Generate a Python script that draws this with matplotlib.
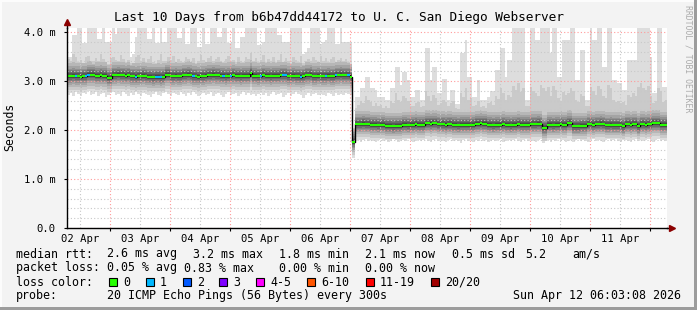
import matplotlib
matplotlib.use("Agg")
import matplotlib.pyplot as plt
import matplotlib.dates as mdates
from matplotlib.patches import Rectangle
from matplotlib.ticker import MultipleLocator, FixedLocator, FixedFormatter
import numpy as np
import pandas as pd

W, H = 697, 310
MONO = "DejaVu Sans Mono"

# hourly steps, first step starts at the left edge of the plot
start = pd.Timestamp("2026-04-02 06:48")
n_steps = 240
switch_step = 114   # first step on the new (faster) path

median_rtt = [
    3.10, 3.10, 3.11, 3.10, 3.10, 3.09, 3.10, 3.10, 3.13, 3.13,
    3.13, 3.11, 3.11, 3.12, 3.11, 3.11, 3.07, 3.07, 3.12, 3.12,
    3.13, 3.12, 3.12, 3.11, 3.12, 3.10, 3.10, 3.09, 3.10, 3.10,
    3.11, 3.10, 3.09, 3.09, 3.08, 3.09, 3.09, 3.08, 3.09, 3.13,
    3.13, 3.10, 3.10, 3.11, 3.10, 3.10, 3.12, 3.12, 3.13, 3.12,
    3.10, 3.10, 3.09, 3.10, 3.10, 3.11, 3.12, 3.12, 3.13, 3.12,
    3.12, 3.11, 3.11, 3.10, 3.11, 3.11, 3.12, 3.11, 3.11, 3.10,
    3.11, 3.11, 3.11, 3.16, 3.11, 3.11, 3.10, 3.11, 3.12, 3.11,
    3.11, 3.10, 3.11, 3.11, 3.11, 3.12, 3.12, 3.12, 3.10, 3.10,
    3.11, 3.10, 3.10, 3.09, 3.10, 3.12, 3.12, 3.13, 3.10, 3.10,
    3.11, 3.10, 3.10, 3.10, 3.11, 3.10, 3.10, 3.12, 3.12, 3.13,
    3.12, 3.12, 3.12, 3.08, 1.76, 2.12, 2.12, 2.12, 2.13, 2.12,
    2.12, 2.11, 2.11, 2.11, 2.10, 2.11, 2.11, 2.09, 2.09, 2.09,
    2.08, 2.09, 2.09, 2.09, 2.11, 2.11, 2.10, 2.11, 2.11, 2.12,
    2.11, 2.11, 2.11, 2.14, 2.14, 2.13, 2.14, 2.14, 2.12, 2.12,
    2.12, 2.11, 2.12, 2.12, 2.11, 2.11, 2.10, 2.11, 2.11, 2.11,
    2.11, 2.10, 2.11, 2.13, 2.13, 2.14, 2.13, 2.13, 2.11, 2.11,
    2.10, 2.11, 2.11, 2.11, 2.12, 2.11, 2.11, 2.10, 2.11, 2.11,
    2.12, 2.11, 2.11, 2.11, 2.11, 2.12, 2.12, 2.12, 2.13, 2.12,
    2.05, 2.05, 2.11, 2.11, 2.10, 2.11, 2.11, 2.12, 2.11, 2.11,
    2.14, 2.14, 2.08, 2.08, 2.08, 2.09, 2.09, 2.09, 2.12, 2.12,
    2.11, 2.12, 2.12, 2.13, 2.12, 2.10, 2.10, 2.11, 2.10, 2.10,
    2.10, 2.10, 2.08, 2.12, 2.12, 2.11, 2.12, 2.12, 2.08, 2.12,
    2.12, 2.11, 2.12, 2.12, 2.14, 2.14, 2.14, 2.11, 2.11, 2.11,
]

# slowest ping of each step
max_rtt = [
    3.50, 3.50, 3.93, 3.93, 4.10, 4.10, 3.77, 3.77, 4.10, 4.10,
    4.10, 4.10, 3.85, 3.85, 4.10, 3.80, 3.80, 3.80, 4.10, 3.95,
    4.10, 4.10, 4.10, 4.10, 4.10, 3.50, 3.55, 3.90, 4.10, 4.10,
    4.10, 4.10, 3.85, 3.85, 4.10, 3.77, 3.77, 4.10, 3.80, 3.80,
    4.10, 4.10, 4.10, 4.10, 3.87, 3.87, 4.10, 3.75, 3.75, 4.10,
    4.10, 4.10, 3.70, 3.70, 4.10, 3.75, 3.75, 4.10, 4.10, 4.10,
    3.90, 3.90, 4.10, 4.10, 3.78, 3.78, 4.10, 3.67, 3.67, 3.90,
    3.90, 4.10, 4.10, 4.10, 4.10, 4.10, 3.74, 3.74, 3.80, 4.10,
    4.10, 4.10, 4.10, 4.10, 3.93, 3.93, 3.80, 3.80, 3.80, 4.10,
    4.10, 4.10, 4.10, 4.10, 3.55, 3.60, 3.67, 4.10, 4.10, 4.10,
    4.10, 3.75, 3.80, 3.84, 4.10, 4.10, 4.10, 3.75, 3.75, 4.10,
    3.80, 3.80, 3.80, 3.80, 2.05, 2.67, 2.67, 2.85, 2.85, 3.08,
    3.08, 2.85, 2.85, 2.82, 2.68, 2.68, 2.68, 2.61, 2.61, 2.85,
    2.85, 3.29, 3.29, 2.92, 3.19, 3.19, 3.02, 2.68, 2.68, 2.82,
    2.82, 2.61, 2.61, 3.67, 3.67, 3.02, 3.29, 3.29, 2.75, 2.75,
    3.05, 3.05, 2.61, 2.82, 2.82, 2.54, 2.54, 3.57, 3.57, 3.84,
    3.09, 3.09, 2.68, 2.68, 3.02, 2.61, 2.61, 2.61, 2.68, 2.80,
    2.80, 3.22, 3.22, 3.67, 3.67, 3.09, 3.43, 3.43, 4.10, 4.10,
    4.10, 4.10, 4.10, 2.61, 2.61, 4.10, 4.10, 3.84, 3.84, 4.10,
    4.10, 4.10, 4.10, 3.57, 4.10, 4.10, 3.09, 3.09, 3.84, 3.84,
    3.84, 4.10, 4.10, 3.02, 3.02, 3.63, 3.63, 2.61, 2.61, 4.10,
    3.84, 3.84, 4.10, 4.10, 3.29, 3.29, 4.10, 4.10, 3.02, 3.02,
    2.95, 2.95, 2.82, 2.82, 3.43, 3.43, 3.43, 3.43, 4.10, 4.10,
    4.10, 4.10, 4.10, 3.50, 2.75, 2.75, 4.10, 4.10, 2.88, 2.88,
]

# second slowest ping of each step
second_rtt = [
    3.45, 3.40, 3.55, 3.50, 3.38, 3.42, 3.36, 3.48, 3.52, 3.40,
    3.35, 3.46, 3.41, 3.55, 3.44, 3.38, 3.33, 3.47, 3.50, 3.42,
    3.39, 3.53, 3.45, 3.37, 3.43, 3.32, 3.36, 3.49, 3.54, 3.41,
    3.46, 3.38, 3.44, 3.51, 3.39, 3.35, 3.42, 3.56, 3.40, 3.37,
    3.48, 3.43, 3.52, 3.38, 3.45, 3.41, 3.36, 3.50, 3.44, 3.39,
    3.47, 3.35, 3.40, 3.53, 3.42, 3.38, 3.46, 3.51, 3.37, 3.44,
    3.49, 3.40, 3.36, 3.45, 3.52, 3.39, 3.43, 3.34, 3.48, 3.41,
    3.37, 3.50, 3.44, 3.58, 3.40, 3.46, 3.38, 3.42, 3.53, 3.36,
    3.45, 3.41, 3.49, 3.37, 3.43, 3.55, 3.39, 3.46, 3.40, 3.35,
    3.48, 3.42, 3.38, 3.51, 3.33, 3.40, 3.44, 3.37, 3.49, 3.43,
    3.39, 3.52, 3.41, 3.46, 3.36, 3.44, 3.50, 3.38, 3.42, 3.47,
    3.40, 3.45, 3.37, 3.35, 1.98, 2.45, 2.52, 2.60, 2.55, 2.70,
    2.62, 2.58, 2.50, 2.55, 2.48, 2.52, 2.45, 2.50, 2.44, 2.60,
    2.55, 2.75, 2.62, 2.58, 2.70, 2.66, 2.60, 2.50, 2.48, 2.55,
    2.58, 2.47, 2.50, 2.80, 2.70, 2.60, 2.72, 2.65, 2.52, 2.55,
    2.62, 2.58, 2.48, 2.55, 2.60, 2.45, 2.42, 2.75, 2.68, 2.85,
    2.62, 2.66, 2.50, 2.52, 2.60, 2.47, 2.50, 2.45, 2.55, 2.58,
    2.52, 2.70, 2.64, 2.85, 2.76, 2.62, 2.72, 2.68, 2.90, 2.82,
    2.95, 2.78, 2.86, 2.50, 2.48, 2.88, 2.80, 2.75, 2.70, 2.92,
    2.85, 2.80, 2.88, 2.70, 2.90, 2.82, 2.65, 2.60, 2.78, 2.72,
    2.75, 2.86, 2.80, 2.62, 2.58, 2.74, 2.70, 2.50, 2.48, 2.88,
    2.80, 2.72, 2.90, 2.84, 2.70, 2.66, 2.92, 2.85, 2.62, 2.58,
    2.60, 2.55, 2.58, 2.52, 2.72, 2.68, 2.75, 2.70, 2.88, 2.95,
    2.85, 2.82, 2.90, 2.70, 2.55, 2.60, 2.86, 2.80, 2.58, 2.62,
]

# fastest ping of each step
min_rtt = [
    2.72, 2.75, 2.70, 2.78, 2.74, 2.69, 2.76, 2.73, 2.79, 2.71,
    2.74, 2.77, 2.70, 2.73, 2.76, 2.68, 2.72, 2.75, 2.78, 2.71,
    2.74, 2.70, 2.77, 2.73, 2.69, 2.75, 2.72, 2.78, 2.74, 2.70,
    2.76, 2.73, 2.71, 2.68, 2.74, 2.77, 2.72, 2.70, 2.75, 2.78,
    2.73, 2.69, 2.76, 2.74, 2.71, 2.77, 2.73, 2.70, 2.75, 2.72,
    2.78, 2.74, 2.69, 2.73, 2.76, 2.71, 2.74, 2.77, 2.70, 2.73,
    2.75, 2.72, 2.68, 2.74, 2.77, 2.71, 2.73, 2.76, 2.70, 2.74,
    2.78, 2.72, 2.75, 2.71, 2.74, 2.69, 2.73, 2.76, 2.72, 2.75,
    2.70, 2.74, 2.77, 2.71, 2.73, 2.76, 2.68, 2.72, 2.75, 2.70,
    2.74, 2.77, 2.73, 2.71, 2.66, 2.72, 2.75, 2.70, 2.73, 2.76,
    2.71, 2.74, 2.72, 2.69, 2.75, 2.73, 2.70, 2.76, 2.72, 2.74,
    2.71, 2.75, 2.73, 2.72, 1.42, 1.78, 1.80, 1.76, 1.79, 1.81,
    1.77, 1.80, 1.78, 1.75, 1.79, 1.81, 1.77, 1.80, 1.76, 1.78,
    1.82, 1.79, 1.75, 1.78, 1.80, 1.77, 1.81, 1.79, 1.76, 1.78,
    1.80, 1.77, 1.79, 1.82, 1.78, 1.75, 1.79, 1.81, 1.77, 1.80,
    1.78, 1.76, 1.79, 1.81, 1.77, 1.80, 1.78, 1.74, 1.79, 1.81,
    1.77, 1.79, 1.76, 1.80, 1.78, 1.82, 1.77, 1.79, 1.75, 1.78,
    1.80, 1.77, 1.79, 1.81, 1.76, 1.78, 1.80, 1.77, 1.79, 1.82,
    1.78, 1.75, 1.79, 1.81, 1.77, 1.80, 1.78, 1.76, 1.79, 1.81,
    1.74, 1.77, 1.79, 1.76, 1.80, 1.78, 1.82, 1.77, 1.79, 1.75,
    1.78, 1.80, 1.76, 1.79, 1.81, 1.77, 1.80, 1.78, 1.75, 1.79,
    1.81, 1.77, 1.80, 1.78, 1.76, 1.79, 1.81, 1.77, 1.79, 1.82,
    1.78, 1.76, 1.79, 1.80, 1.77, 1.75, 1.79, 1.81, 1.78, 1.80,
    1.77, 1.79, 1.82, 1.78, 1.76, 1.79, 1.81, 1.77, 1.80, 1.78,
]

# typical sorted 20 pings around the median, old path / new path
old_path_pings = [2.74, 2.82, 2.88, 2.93, 2.97, 3.00, 3.03, 3.06, 3.08, 3.10,
                  3.11, 3.13, 3.16, 3.19, 3.22, 3.26, 3.31, 3.38, 3.45, 4.10]
new_path_pings = [1.77, 1.85, 1.91, 1.95, 1.98, 2.01, 2.04, 2.07, 2.09, 2.11,
                  2.12, 2.14, 2.17, 2.20, 2.23, 2.27, 2.32, 2.38, 2.50, 3.20]

# steps where 1 of 20 pings was lost
one_loss_steps = [3, 7, 8, 27, 35, 36, 37, 50, 62, 65, 77, 86, 87, 93, 103, 107, 112]

loss_labels = ["0", "1", "2", "3", "4-5", "6-10", "11-19", "20/20"]
loss_colors = ["#26ff00", "#00b8ff", "#0059ff", "#7e00ff", "#ff00ff",
               "#ff5500", "#ff0000", "#a10000"]

# ---- build the 20 sorted pings for every step
edges = pd.date_range(start, periods=n_steps + 1, freq="h")
pings = np.zeros((n_steps, 20))
for i in range(n_steps):
    shape = np.array(old_path_pings if i < switch_step else new_path_pings)
    shape_med = (shape[9] + shape[10]) / 2
    row = shape - shape_med + median_rtt[i]
    row[0] = min_rtt[i]
    row[18] = second_rtt[i]
    row[19] = max_rtt[i]
    pings[i] = np.sort(row)

fig = plt.figure(figsize=(W / 100, H / 100), dpi=100)
fig.patch.set_facecolor("#f3f3f3")

ax = fig.add_axes([67 / W, (H - 228) / H, 600 / W, 200 / H])
ax.set_facecolor("white")

# smoke: 10 layers from outer (light) to inner (dark)
for k in range(10):
    g = int(190 / 10 * (10 - (k + 1))) + 50
    col = "#%02x%02x%02x" % (g, g, g)
    lo = np.append(pings[:, k], pings[-1, k])
    hi = np.append(pings[:, 19 - k], pings[-1, 19 - k])
    ax.fill_between(edges, lo, hi, step="post", color=col, lw=0, zorder=1)

# median line
med_ext = np.append(median_rtt, median_rtt[-1])
ax.step(edges, med_ext, where="post", color="black", lw=1.0, zorder=3)
for i in range(n_steps):
    c = loss_colors[1] if i in one_loss_steps else loss_colors[0]
    ax.hlines(median_rtt[i], edges[i], edges[i + 1], color=c, lw=1.5,
              zorder=4, capstyle="butt")

ax.set_xlim(edges[0], edges[-1])
ax.set_ylim(0, 200 / 49)

# grid
ax.yaxis.set_major_locator(FixedLocator([0, 1, 2, 3, 4]))
ax.yaxis.set_major_formatter(FixedFormatter(["0.0", "1.0 m", "2.0 m", "3.0 m", "4.0 m"]))
ax.yaxis.set_minor_locator(MultipleLocator(0.2))
ax.xaxis.set_major_locator(mdates.DayLocator())
ax.xaxis.set_minor_locator(mdates.HourLocator(byhour=[12]))
ax.xaxis.set_major_formatter(plt.NullFormatter())
ax.xaxis.set_minor_formatter(mdates.DateFormatter("%d %b"))
ax.set_axisbelow(False)
ax.grid(which="minor", color="#c8c8c8", lw=0.8, ls=(0, (1, 2)), zorder=2)
ax.grid(which="major", color="#ff9a9a", lw=0.8, ls=(0, (1, 2)), zorder=2)

ax.tick_params(axis="y", which="major", length=2, pad=6, labelsize=7.6,
               labelfontfamily=MONO)
ax.tick_params(axis="y", which="minor", length=0)
ax.tick_params(axis="x", which="major", length=2)
ax.tick_params(axis="x", which="minor", length=0, pad=4, labelsize=7.6,
               labelfontfamily=MONO)

for s in ["top", "right"]:
    ax.spines[s].set_visible(False)
for s in ["left", "bottom"]:
    ax.spines[s].set_color("black")
    ax.spines[s].set_linewidth(1.0)
    ax.spines[s].set_zorder(5)

# axis arrows
ax.plot([0, 0], [1, 1.025], color="black", lw=1, transform=ax.transAxes, clip_on=False)
ax.plot(0, 1.03, marker="^", ms=4.5, color="#8b0000", transform=ax.transAxes, clip_on=False)
ax.plot([1, 1.005], [0, 0], color="black", lw=1, transform=ax.transAxes, clip_on=False)
ax.plot(1.008, 0, marker=">", ms=4.5, color="#8b0000", transform=ax.transAxes, clip_on=False)


def px(x, y):
    return x / W, 1 - y / H


# title and labels
fig.text(*px(339, 18), "Last 10 Days from b6b47dd44172 to U. C. San Diego Webserver",
         family=MONO, fontsize=9.2, ha="center", va="center")
fig.text(*px(10, 127), "Seconds", family=MONO, fontsize=8.3, rotation=90,
         ha="center", va="center")
fig.text(*px(688, 5), "RRDTOOL / TOBI OETIKER", family=MONO, fontsize=5.9,
         color="#ababab", rotation=270, ha="center", va="top")

# legend rows
LF = 8.35
rows = [
    (254, [(16, "median rtt:"), (107, "2.6 ms avg"), (193, "3.2 ms max"),
           (279, "1.8 ms min"), (365, "2.1 ms now"), (452, "0.5 ms sd"),
           (525, "5.2"), (572, "am/s")]),
    (268, [(16, "packet loss:"), (107, "0.05 % avg"), (184, "0.83 % max"),
           (279, "0.00 % min"), (365, "0.00 % now")]),
    (282, [(16, "loss color:")]),
    (296, [(16, "probe:"), (107, "20 ICMP Echo Pings (56 Bytes) every 300s"),
           (513, "Sun Apr 12 06:03:08 2026")]),
]
for y, items in rows:
    for x, t in items:
        fig.text(*px(x, y), t, family=MONO, fontsize=LF, ha="left", va="center")

box_x = [109, 146, 183, 219, 256, 307, 366, 431]
for bx, lab, col in zip(box_x, loss_labels, loss_colors):
    x0, y0 = px(bx, 286)
    fig.add_artist(Rectangle((x0, y0), 8 / W, 8 / H, transform=fig.transFigure,
                             facecolor=col, edgecolor="black", lw=0.8))
    fig.text(*px(bx + 14, 282), lab, family=MONO, fontsize=LF, ha="left", va="center")

# 3d frame
fig.add_artist(Rectangle((0, 0), 2 / W, 1, transform=fig.transFigure, color="#fcfcfc", lw=0))
fig.add_artist(Rectangle((0, 1 - 2 / H), 1, 2 / H, transform=fig.transFigure, color="#fcfcfc", lw=0))
fig.add_artist(Rectangle((1 - 3 / W, 0), 3 / W, 1, transform=fig.transFigure, color="#9c9c9c", lw=0))
fig.add_artist(Rectangle((0, 0), 1, 3 / H, transform=fig.transFigure, color="#9c9c9c", lw=0))

fig.savefig("out.png", dpi=100, facecolor=fig.get_facecolor())
